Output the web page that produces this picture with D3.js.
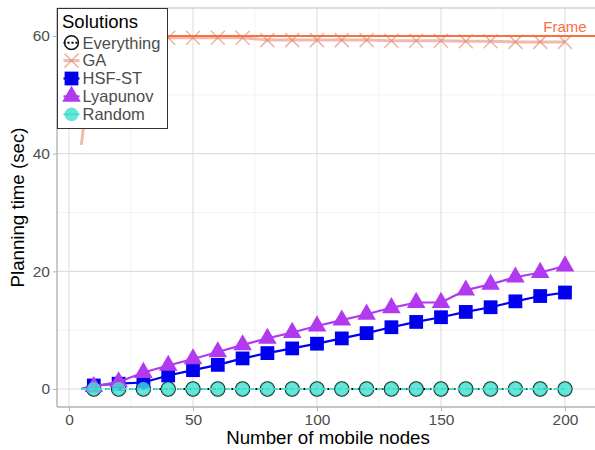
<!DOCTYPE html>
<html>
<head>
<meta charset="utf-8">
<script src="https://cdn.jsdelivr.net/npm/d3@7"></script>
<style>
  body { margin: 0; background: #fff; }
  svg { display: block; font-family: "Liberation Sans", Arial, sans-serif; }
</style>
</head>
<body>
<div id="chart"></div>
<script>
// Data
const nodes      = [5, 10, 20, 30, 40, 50, 60, 70, 80, 90, 100, 110, 120, 130, 140, 150, 160, 170, 180, 190, 200];
const everything = [0, 0, 0, 0, 0, 0, 0, 0, 0, 0, 0, 0, 0, 0, 0, 0, 0, 0, 0, 0, 0];
const ga         = [41.5, 59.7, 59.7, 59.7, 59.7, 59.7, 59.7, 59.7, 59.3, 59.3, 59.3, 59.3, 59.3, 59.2, 59.2, 59.2, 59.1, 59.1, 59.0, 59.0, 59.0];
const hsfst      = [0, 0.6, 0.9, 1.1, 2.3, 3.2, 4.1, 5.2, 6.1, 6.9, 7.7, 8.6, 9.5, 10.5, 11.4, 12.2, 13.1, 13.9, 14.9, 15.8, 16.4];
const lyapunov   = [0, 0.4, 1.2, 2.8, 4.0, 5.1, 6.3, 7.5, 8.6, 9.6, 10.7, 11.7, 12.7, 13.8, 14.7, 14.7, 16.8, 17.8, 19.0, 19.8, 20.9];
const random     = [0, 0, 0, 0, 0, 0, 0, 0, 0, 0, 0, 0, 0, 0, 0, 0, 0, 0, 0, 0, 0];
const frameValue = 60;
const xTicks = [0, 50, 100, 150, 200];
const yTicks = [0, 20, 40, 60];
const xMinor = [25, 75, 125, 175];
const yMinor = [10, 30, 50];

const width = 595, height = 450;
const panel = { left: 57, right: 595, top: 8, bottom: 407 };

const x = d3.scaleLinear().domain([-4.84, 212.1]).range([panel.left, panel.right]);
const y = d3.scaleLinear().domain([-3.06, 64.76]).range([panel.bottom, panel.top]);

const svg = d3.select("#chart").append("svg")
    .attr("width", width)
    .attr("height", height);

// grid
const grid = svg.append("g");
grid.selectAll(".xminor").data(xMinor).enter().append("line")
    .attr("x1", d => x(d)).attr("x2", d => x(d))
    .attr("y1", panel.top).attr("y2", panel.bottom)
    .attr("stroke", "#ececec").attr("stroke-width", 0.6);
grid.selectAll(".yminor").data(yMinor).enter().append("line")
    .attr("y1", d => y(d)).attr("y2", d => y(d))
    .attr("x1", panel.left).attr("x2", panel.right)
    .attr("stroke", "#ececec").attr("stroke-width", 0.6);
grid.selectAll(".xmajor").data(xTicks).enter().append("line")
    .attr("x1", d => x(d)).attr("x2", d => x(d))
    .attr("y1", panel.top).attr("y2", panel.bottom)
    .attr("stroke", "#dedede").attr("stroke-width", 1.1);
grid.selectAll(".ymajor").data(yTicks).enter().append("line")
    .attr("y1", d => y(d)).attr("y2", d => y(d))
    .attr("x1", panel.left).attr("x2", panel.right)
    .attr("stroke", "#dedede").attr("stroke-width", 1.1);

// top border
svg.append("line")
    .attr("x1", panel.left).attr("x2", panel.right)
    .attr("y1", panel.top).attr("y2", panel.top)
    .attr("stroke", "#bdbdbd").attr("stroke-width", 1.2);

// axes
const xAxis = svg.append("g")
    .attr("transform", `translate(0,${panel.bottom})`)
    .call(d3.axisBottom(x).tickValues(xTicks).tickSize(4).tickPadding(3));
const yAxis = svg.append("g")
    .attr("transform", `translate(${panel.left},0)`)
    .call(d3.axisLeft(y).tickValues(yTicks).tickSize(4).tickPadding(3));
[xAxis, yAxis].forEach(a => {
    a.select(".domain").attr("stroke", "#b3b3b3").attr("stroke-width", 1.4);
    a.selectAll(".tick line").attr("stroke", "#b3b3b3");
    a.selectAll(".tick text").attr("fill", "#4d4d4d").style("font-size", "15.5px")
        .style("font-family", "'Liberation Sans', Arial, sans-serif");
});
xAxis.select(".domain").attr("d", `M${panel.left},0H${panel.right}`);
yAxis.select(".domain").attr("d", `M0,${panel.top}V${panel.bottom}`);

svg.append("text")
    .attr("x", (panel.left + panel.right) / 2 + 2)
    .attr("y", 444)
    .attr("text-anchor", "middle")
    .style("font-size", "18.7px")
    .text("Number of mobile nodes");
svg.append("text")
    .attr("transform", `translate(24,${(panel.top + panel.bottom) / 2}) rotate(-90)`)
    .attr("text-anchor", "middle")
    .style("font-size", "18.7px")
    .text("Planning time (sec)");

const plot = svg.append("g");

// symbols
const crossPath = s => `M${-s},${-s}L${s},${s}M${-s},${s}L${s},${-s}`;
const series = [
    { name: "Everything", values: everything, color: "#000", lineWidth: 2, dash: "2,4",
      shape: "circle", fill: "none", stroke: "#111", opacity: 1 },
    { name: "GA", values: ga, color: "#e0846a", lineWidth: 3, dash: null, lineOpacity: 0.55,
      shape: "cross", fill: "none", stroke: "#e0846a", opacity: 0.6 },
    { name: "HSF-ST", values: hsfst, color: "#0000ee", lineWidth: 2.2, dash: null,
      shape: "square", fill: "#0000ee", stroke: "none", opacity: 1 },
    { name: "Lyapunov", values: lyapunov, color: "#b23aee", lineWidth: 2.2, dash: null,
      shape: "triangle", fill: "#b23aee", stroke: "none", opacity: 1 },
    { name: "Random", values: random, color: "#40e0d0", lineWidth: 2, dash: "5,3",
      shape: "circle", fill: "#40e0d0", stroke: "none", opacity: 0.8 }
];

function drawSymbol(sel, s) {
    if (s.shape === "cross") {
        sel.attr("d", crossPath(7)).attr("fill", "none")
            .attr("stroke", s.stroke).attr("stroke-width", 1.5);
    } else if (s.shape === "circle") {
        sel.attr("d", d3.symbol(d3.symbolCircle, 150)())
            .attr("fill", s.fill).attr("stroke", s.stroke).attr("stroke-width", 1.5);
    } else if (s.shape === "square") {
        sel.attr("d", d3.symbol(d3.symbolSquare, 190)()).attr("fill", s.fill);
    } else {
        sel.attr("d", d3.symbol(d3.symbolTriangle, 150)()).attr("fill", s.fill);
    }
    sel.attr("opacity", s.opacity);
}

const line = d3.line().x(d => x(d[0])).y(d => y(d[1]));

series.forEach(s => {
    const pts = nodes.map((n, i) => [n, s.values[i]]);
    plot.append("path")
        .attr("d", line(pts))
        .attr("fill", "none")
        .attr("stroke", s.color)
        .attr("stroke-width", s.lineWidth)
        .attr("stroke-dasharray", s.dash)
        .attr("stroke-opacity", s.lineOpacity || 1);
    plot.selectAll(null).data(pts.filter(p => p[0] % 10 === 0)).enter()
        .append("path")
        .attr("transform", d => `translate(${x(d[0])},${y(d[1])})`)
        .each(function() { drawSymbol(d3.select(this), s); });
});

// Frame reference line
svg.append("line")
    .attr("x1", panel.left).attr("x2", panel.right)
    .attr("y1", y(frameValue)).attr("y2", y(frameValue))
    .attr("stroke", "#f8703f").attr("stroke-width", 1.8);
svg.append("text")
    .attr("x", x(200)).attr("y", y(frameValue) - 4)
    .attr("text-anchor", "middle")
    .attr("fill", "#f8703f")
    .style("font-size", "15px")
    .text("Frame");

// legend
const lg = svg.append("g");
lg.append("rect")
    .attr("x", 57.5).attr("y", 8.5).attr("width", 110).attr("height", 120)
    .attr("fill", "#fff").attr("stroke", "#333").attr("stroke-width", 1);
lg.append("text")
    .attr("x", 62).attr("y", 28)
    .style("font-size", "18.5px")
    .text("Solutions");
series.forEach((s, i) => {
    const cy = 42.7 + i * 17.9;
    const row = lg.append("g").attr("transform", `translate(71.5,${cy})`);
    row.append("line")
        .attr("x1", -8).attr("x2", 8)
        .attr("stroke", s.color).attr("stroke-width", s.lineWidth)
        .attr("stroke-dasharray", s.name === "Everything" ? "2,2" : null)
        .attr("stroke-opacity", s.lineOpacity || 1);
    drawSymbol(row.append("path"), s);
    row.append("text")
        .attr("x", 11).attr("y", 5.8)
        .attr("fill", "#4d4d4d")
        .style("font-size", "16.5px")
        .text(s.name);
});
</script>
</body>
</html>
